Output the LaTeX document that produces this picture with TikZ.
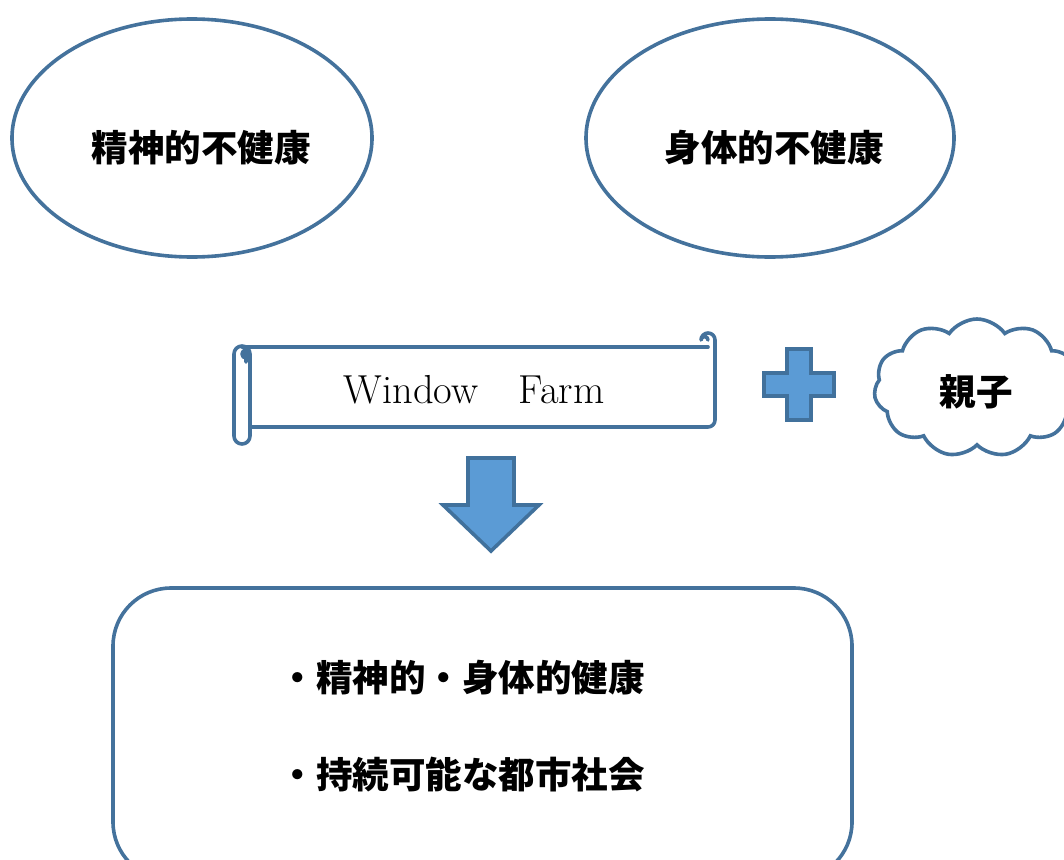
\documentclass[tikz,border=0pt]{standalone}
\usepackage{fontspec}
\newfontfamily\jp{Noto Sans CJK JP}
\usetikzlibrary{shapes.geometric,shapes.symbols}
\definecolor{edge}{RGB}{68,114,156}
\definecolor{blueFill}{RGB}{91,155,213}
\definecolor{blueEdge}{RGB}{65,113,156}
\tikzset{
  outline/.style={draw=edge, line width=3.6pt},
  oval/.style={outline, ellipse, inner sep=0pt},
  jplabel/.style={font=\jp\bfseries\fontsize{36.5}{44}\selectfont, text=black},
  solidshape/.style={fill=blueFill, draw=blueEdge, line width=3.6pt, line join=miter},
}
\begin{document}
\begin{tikzpicture}[x=1pt,y=-1pt]
\useasboundingbox (0,0) rectangle (1064,859);

% two health ovals
\node[oval, minimum width=360pt, minimum height=238pt] (mental) at (192,138) {};
\node[jplabel] at (201,148) {精神的不健康};
\node[oval, minimum width=368pt, minimum height=238pt] (physical) at (770,138) {};
\node[jplabel] at (774,148) {身体的不健康};

% scroll banner
\begin{scope}[draw=edge, line width=3.6pt, line cap=round, line join=round]
  \draw (242,347) -- (708,347);
  \draw (715,340) -- (715,420) arc[start angle=0, end angle=90, radius=7] -- (250,427);
  \draw (715,340) arc[start angle=0, end angle=-180, radius=7]
        arc[start angle=180, end angle=360, radius=3.5];
  \draw (250,354) arc[start angle=0, end angle=-180, radius=8]
        -- (234,436) arc[start angle=180, end angle=0, radius=8] -- cycle;
  \draw (250,354) arc[start angle=0, end angle=180, radius=4];
  \draw (242,354) arc[start angle=180, end angle=270, radius=4] -- (246,362);
\end{scope}
\node[font=\fontsize{40.5}{48}\selectfont] (banner) at (474,390) {Window\hspace{1em}Farm};

% plus sign
\draw[solidshape] (787,349) -- (811,349) -- (811,373) -- (834,373) -- (834,396)
  -- (811,396) -- (811,420) -- (787,420) -- (787,396) -- (764,396) -- (764,373)
  -- (787,373) -- cycle;

% cloud
\node[cloud, cloud puffs=11, cloud puff arc=110, cloud ignores aspect, outline,
      minimum width=206pt, minimum height=138pt, inner sep=0pt] (oyako) at (977,388) {};
\node[jplabel] at (976,392) {親子};

% down arrow
\draw[solidshape] (468,458) -- (514,458) -- (514,505) -- (539,505) -- (491,551)
  -- (443,505) -- (468,505) -- cycle;
\coordinate (arrowtip) at (491,551);

% outcome box
\draw[outline, rounded corners=58pt] (113,588) rectangle (852,880);
\node[jplabel, anchor=west] (goal1) at (276,678) {・精神的・身体的健康};
\node[jplabel, anchor=west] (goal2) at (276,775) {・持続可能な都市社会};
\end{tikzpicture}
\end{document}
